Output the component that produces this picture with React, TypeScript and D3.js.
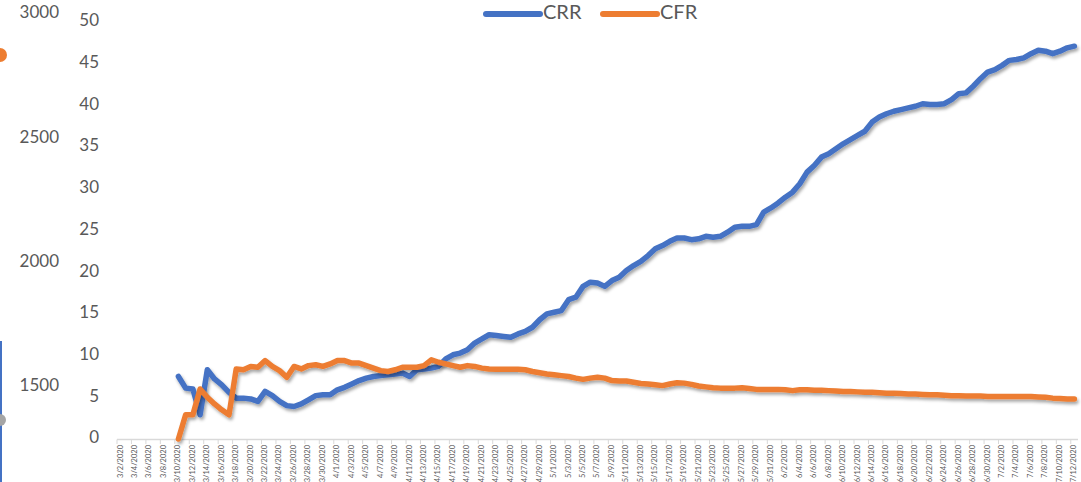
import React from 'react'
import * as d3 from 'd3'

// category labels shown on the x axis (every second day)
const tickLabels = [
  '3/2/2020', '3/4/2020', '3/6/2020', '3/8/2020', '3/10/2020', '3/12/2020', '3/14/2020',
  '3/16/2020', '3/18/2020', '3/20/2020', '3/22/2020', '3/24/2020', '3/26/2020', '3/28/2020',
  '3/30/2020', '4/1/2020', '4/3/2020', '4/5/2020', '4/7/2020', '4/9/2020', '4/11/2020',
  '4/13/2020', '4/15/2020', '4/17/2020', '4/19/2020', '4/21/2020', '4/23/2020', '4/25/2020',
  '4/27/2020', '4/29/2020', '5/1/2020', '5/3/2020', '5/5/2020', '5/7/2020', '5/9/2020',
  '5/11/2020', '5/13/2020', '5/15/2020', '5/17/2020', '5/19/2020', '5/21/2020', '5/23/2020',
  '5/25/2020', '5/27/2020', '5/29/2020', '5/31/2020', '6/2/2020', '6/4/2020', '6/6/2020',
  '6/8/2020', '6/10/2020', '6/12/2020', '6/14/2020', '6/16/2020', '6/18/2020', '6/20/2020',
  '6/22/2020', '6/24/2020', '6/26/2020', '6/28/2020', '6/30/2020', '7/2/2020', '7/4/2020',
  '7/6/2020', '7/8/2020', '7/10/2020', '7/12/2020'
]

// one value per day, 3/2/2020 .. 7/12/2020 (133 days); null = no data yet
const crr = [
  null, null, null, null, null, null, null, null,
  7.5, 6.1, 6.0, 2.9, 8.3, 7.2, 6.5, 5.6, 4.9, 4.9,
  4.8, 4.5, 5.7, 5.2, 4.5, 4.0, 3.9, 4.2, 4.7, 5.2,
  5.3, 5.3, 5.9, 6.2, 6.6, 7.0, 7.3, 7.5, 7.6, 7.7,
  7.8, 7.9, 7.5, 8.3, 8.4, 8.5, 8.7, 9.6, 10.1, 10.3,
  10.7, 11.5, 12.0, 12.5, 12.4, 12.3, 12.2, 12.6, 12.9, 13.4,
  14.3, 15.0, 15.2, 15.4, 16.7, 17.0, 18.3, 18.8, 18.7, 18.3,
  19.0, 19.4, 20.2, 20.8, 21.3, 22.0, 22.8, 23.2, 23.7, 24.1,
  24.1, 23.9, 24.0, 24.3, 24.2, 24.3, 24.8, 25.4, 25.5, 25.5,
  25.7, 27.2, 27.7, 28.3, 29.0, 29.6, 30.6, 32.0, 32.8, 33.8,
  34.2, 34.8, 35.4, 35.9, 36.4, 36.9, 38.0, 38.6, 39.0, 39.3,
  39.5, 39.7, 39.9, 40.2, 40.1, 40.1, 40.2, 40.7, 41.4, 41.5,
  42.3, 43.2, 44.0, 44.3, 44.8, 45.4, 45.5, 45.7, 46.2, 46.6,
  46.5, 46.2, 46.5, 46.9, 47.1
]

const cfr = [
  null, null, null, null, null, null, null, null,
  0, 2.9, 2.9, 6.0, 5.0, 4.2, 3.5, 2.9, 8.4, 8.3,
  8.7, 8.6, 9.4, 8.7, 8.2, 7.4, 8.7, 8.4, 8.8, 8.9,
  8.7, 9.0, 9.4, 9.4, 9.1, 9.1, 8.8, 8.5, 8.2, 8.1,
  8.3, 8.6, 8.6, 8.6, 8.8, 9.5, 9.2, 9.0, 8.8, 8.6,
  8.8, 8.7, 8.5, 8.4, 8.35, 8.35, 8.35, 8.35, 8.3, 8.1,
  7.95, 7.8, 7.7, 7.6, 7.5, 7.3, 7.15, 7.3, 7.4, 7.3,
  7.0, 6.95, 6.95, 6.8, 6.65, 6.6, 6.5, 6.4, 6.6, 6.75,
  6.7, 6.55, 6.35, 6.25, 6.15, 6.1, 6.1, 6.1, 6.15, 6.05,
  5.95, 5.95, 5.95, 5.95, 5.9, 5.8, 5.9, 5.9, 5.85, 5.85,
  5.8, 5.75, 5.7, 5.7, 5.65, 5.6, 5.6, 5.55, 5.5, 5.5,
  5.45, 5.4, 5.4, 5.35, 5.3, 5.3, 5.25, 5.2, 5.2, 5.15,
  5.15, 5.15, 5.1, 5.1, 5.1, 5.1, 5.1, 5.1, 5.1, 5.05,
  5.0, 4.9, 4.85, 4.8, 4.8
]

const yTicks = [0, 5, 10, 15, 20, 25, 30, 35, 40, 45, 50]
// leftover axis of a neighbouring chart, cut off at the left edge
const ghostTicks = [1500, 2000, 2500, 3000]

const BLUE = '#4472c4'
const ORANGE = '#ed7d31'
const TEXT = '#595959'
const FONT = 'Lato, "Open Sans", sans-serif'

const App = () => {
  const width = 1081
  const height = 482

  const idx = crr.map((_, i) => i)
  const x = d3.scalePoint<number>().domain(idx).range([117, 1078]).padding(0.5)
  const step = x.step()
  const y = d3.scaleLinear().domain([0, 50]).range([439, 22])
  const ghostY = d3.scaleLinear().domain([1500, 3000]).range([387, 14])

  const line = d3
    .line<number | null>()
    .defined(d => d !== null)
    .x((_, i) => x(i) as number)
    .y(d => y(d as number))

  const series = [
    { name: 'CRR', values: crr, color: BLUE },
    { name: 'CFR', values: cfr, color: ORANGE }
  ]

  return (
    <svg
      width={width}
      height={height}
      style={{ position: 'absolute', left: 0, top: 0, background: '#fff' }}
      fontFamily={FONT}
    >
      <defs>
        <filter id="shadow" x="-5%" y="-5%" width="110%" height="120%">
          <feDropShadow dx="1.5" dy="2.5" stdDeviation="1.6" floodColor="#000" floodOpacity="0.35" />
        </filter>
      </defs>

      {/* bits of another chart at the left edge */}
      <line x1={1} x2={1} y1={341} y2={height} stroke={BLUE} strokeWidth={2} />
      <circle cx={0} cy={55} r={7} fill={ORANGE} />
      <circle cx={0} cy={420} r={6} fill="#a5a5a5" />
      {ghostTicks.map(t => (
        <text key={t} x={59} y={ghostY(t)} textAnchor="end" dominantBaseline="middle"
          fontSize={17} fill={TEXT}>
          {t}
        </text>
      ))}

      {/* y axis labels */}
      {yTicks.map(t => (
        <text key={t} x={99} y={y(t)} textAnchor="end" dominantBaseline="middle"
          fontSize={17} fill={TEXT}>
          {t}
        </text>
      ))}

      {/* x axis */}
      <line x1={117} x2={1078} y1={439.5} y2={439.5} stroke="#d9d9d9" strokeWidth={1.5} />
      {idx.filter(i => i % 2 === 0).map(i => (
        <line key={i} x1={117 + i * step} x2={117 + i * step} y1={439.5} y2={444}
          stroke="#d9d9d9" strokeWidth={1} />
      ))}
      {tickLabels.map((lab, k) => {
        const cx = x(k * 2) as number
        return (
          <text key={lab} transform={`translate(${cx},445) rotate(-90)`} textAnchor="end"
            dominantBaseline="middle" fontSize={7.5} fill={TEXT}>
            {lab}
          </text>
        )
      })}

      {/* lines */}
      {series.map(s => (
        <path key={s.name} d={line(s.values) || ''} fill="none" stroke={s.color}
          strokeWidth={5.5} strokeLinejoin="round" strokeLinecap="round" filter="url(#shadow)" />
      ))}

      {/* legend */}
      {series.map((s, k) => (
        <g key={s.name} transform={`translate(${486 + k * 117},14)`}>
          <line x1={0} x2={54} y1={0} y2={0} stroke={s.color} strokeWidth={6} strokeLinecap="round" />
          <text x={57} y={0} dominantBaseline="middle" fontSize={20} fill={TEXT}>
            {s.name}
          </text>
        </g>
      ))}
    </svg>
  )
}

export default App
